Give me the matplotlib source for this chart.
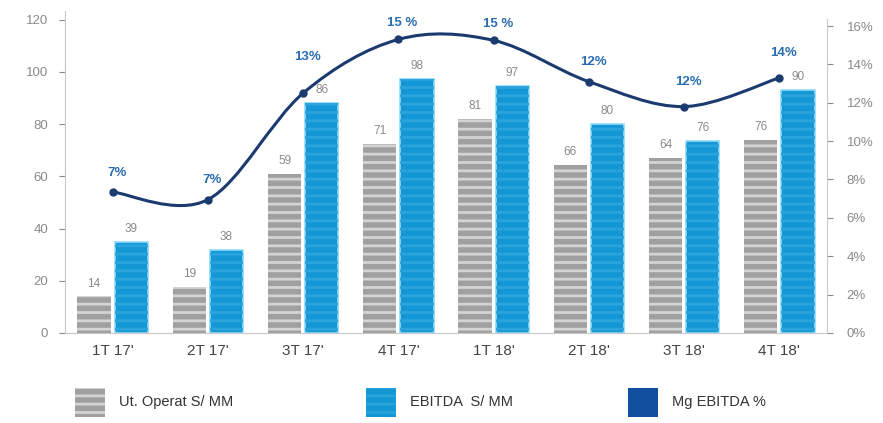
import numpy as np
import matplotlib

matplotlib.use('Agg')
import matplotlib.pyplot as plt
from matplotlib.path import Path
from matplotlib.patches import PathPatch, Rectangle

plt.rcParams['font.family'] = ['Liberation Sans', 'DejaVu Sans']

# --- datos ---
quarters = ["1T 17'", "2T 17'", "3T 17'", "4T 17'",
            "1T 18'", "2T 18'", "3T 18'", "4T 18'"]
ut_operat = [14, 17.5, 61, 72.5, 82, 64.5, 67, 74]
ut_labels = ['14', '19', '59', '71', '81', '66', '64', '76']
ebitda = [35, 31.7, 88, 97.5, 94.5, 80, 73.7, 93]
ebitda_labels = ['39', '38', '86', '98', '97', '80', '76', '90']
mg_ebitda = [7.35, 6.95, 12.5, 15.3, 15.25, 13.1, 11.8, 13.3]
mg_labels = ['7%', '7%', '13%', '15 %', '15 %', '12%', '12%', '14%']

GRAY = '#a0a0a0'
GRAY_STRIPE = '#d4d4d4'
BLUE = '#1497d4'
BLUE_STRIPE = '#2ba4dd'
NAVY = '#1b3a6f'
PCT_BLUE = '#2a6db3'
TXT_GRAY = '#8a8a8a'

fig = plt.figure(figsize=(8.83, 4.23), dpi=100)
ax = fig.add_axes([0.0736, 0.2128, 0.863, 0.762])
ax2 = ax.twinx()

x = np.arange(len(quarters))
w = 0.35
plt.rcParams['hatch.linewidth'] = 2.0

# barras grises con rayas
ax.bar(x - 0.195, ut_operat, width=w, color=GRAY, linewidth=0, zorder=2)
ax.bar(x - 0.195, ut_operat, width=w, facecolor='none', edgecolor=GRAY_STRIPE,
       hatch='--', linewidth=0, zorder=3)
# barras azules
ax.bar(x + 0.195, ebitda, width=w, color=BLUE, edgecolor='#8fdcf7',
       linewidth=1.2, zorder=2)
ax.bar(x + 0.195, ebitda, width=w, facecolor='none', edgecolor=BLUE_STRIPE,
       hatch='--', linewidth=0, zorder=3)

for xi, v, t in zip(x, ut_operat, ut_labels):
    ax.annotate(t, (xi - 0.195, v), xytext=(0, 5), textcoords='offset points',
                ha='center', va='bottom', fontsize=8.5, color=TXT_GRAY)
for xi, v, t in zip(x, ebitda, ebitda_labels):
    ax.annotate(t, (xi + 0.195, v), xytext=(0, 5), textcoords='offset points',
                ha='center', va='bottom', fontsize=8.5, color=TXT_GRAY)

ax.set_xlim(-0.5, 7.5)
ax.set_ylim(0, 123.5)
ax.set_yticks(range(0, 121, 20))
ax.set_xticks(x)
ax.set_xticklabels(quarters, fontsize=11, color='#444444')
ax.tick_params(axis='x', length=0, pad=8)
ax.tick_params(axis='y', colors=TXT_GRAY, labelsize=9.5, length=4,
               direction='out', pad=8)
for s in ['top', 'right']:
    ax.spines[s].set_visible(False)
ax.spines['left'].set_color('#c8c8c8')
ax.spines['bottom'].set_color('#c8c8c8')

# línea suavizada del margen (Catmull-Rom -> Bezier)
pts = np.column_stack([x, mg_ebitda])
verts = [pts[0]]
codes = [Path.MOVETO]
for i in range(len(pts) - 1):
    p0 = pts[i - 1] if i > 0 else pts[i]
    p1 = pts[i]
    p2 = pts[i + 1]
    p3 = pts[i + 2] if i + 2 < len(pts) else pts[i + 1]
    c1 = p1 + (p2 - p0) / 6.0
    c2 = p2 - (p3 - p1) / 6.0
    verts += [c1, c2, p2]
    codes += [Path.CURVE4] * 3
ax2.add_patch(PathPatch(Path(verts, codes), facecolor='none', edgecolor=NAVY,
                        linewidth=2.2, zorder=4))
ax2.plot(x, mg_ebitda, 'o', color=NAVY, markersize=5, zorder=5)

pct_offsets = [14, 14, 26, 12, 12, 14, 18, 18]
for xi, v, t, off in zip(x, mg_ebitda, mg_labels, pct_offsets):
    ax2.annotate(t, (xi, v), xytext=(3, off), textcoords='offset points',
                 ha='center', va='center', fontsize=9.5, color=PCT_BLUE,
                 fontweight='bold')

ax2.set_ylim(0, 16.8)
ax2.set_yticks(range(0, 17, 2))
ax2.set_yticklabels([f'{v}%' for v in range(0, 17, 2)])
ax2.tick_params(axis='y', colors=TXT_GRAY, labelsize=9.5, length=4,
                direction='out', pad=10)
for s in ['top', 'left', 'bottom']:
    ax2.spines[s].set_visible(False)
ax2.spines['right'].set_color('#c8c8c8')
ax2.spines['right'].set_bounds(0, 16.35)

# leyenda
legend_items = [
    (0.085, 'Ut. Operat S/ MM', GRAY, GRAY_STRIPE),
    (0.414, 'EBITDA  S/ MM', BLUE, BLUE_STRIPE),
    (0.711, 'Mg EBITDA %', '#10509e', None),
]
for lx, label, fc, stripe in legend_items:
    fig.add_artist(Rectangle((lx, 0.015), 0.034, 0.068, transform=fig.transFigure,
                             facecolor=fc, edgecolor='none'))
    if stripe:
        fig.add_artist(Rectangle((lx, 0.015), 0.034, 0.068,
                                 transform=fig.transFigure, facecolor='none',
                                 edgecolor=stripe, hatch='--', linewidth=0))
    fig.text(lx + 0.05, 0.05, label, fontsize=10.5, color='#333333',
             va='center', ha='left')

fig.savefig('out.png', dpi=100)
